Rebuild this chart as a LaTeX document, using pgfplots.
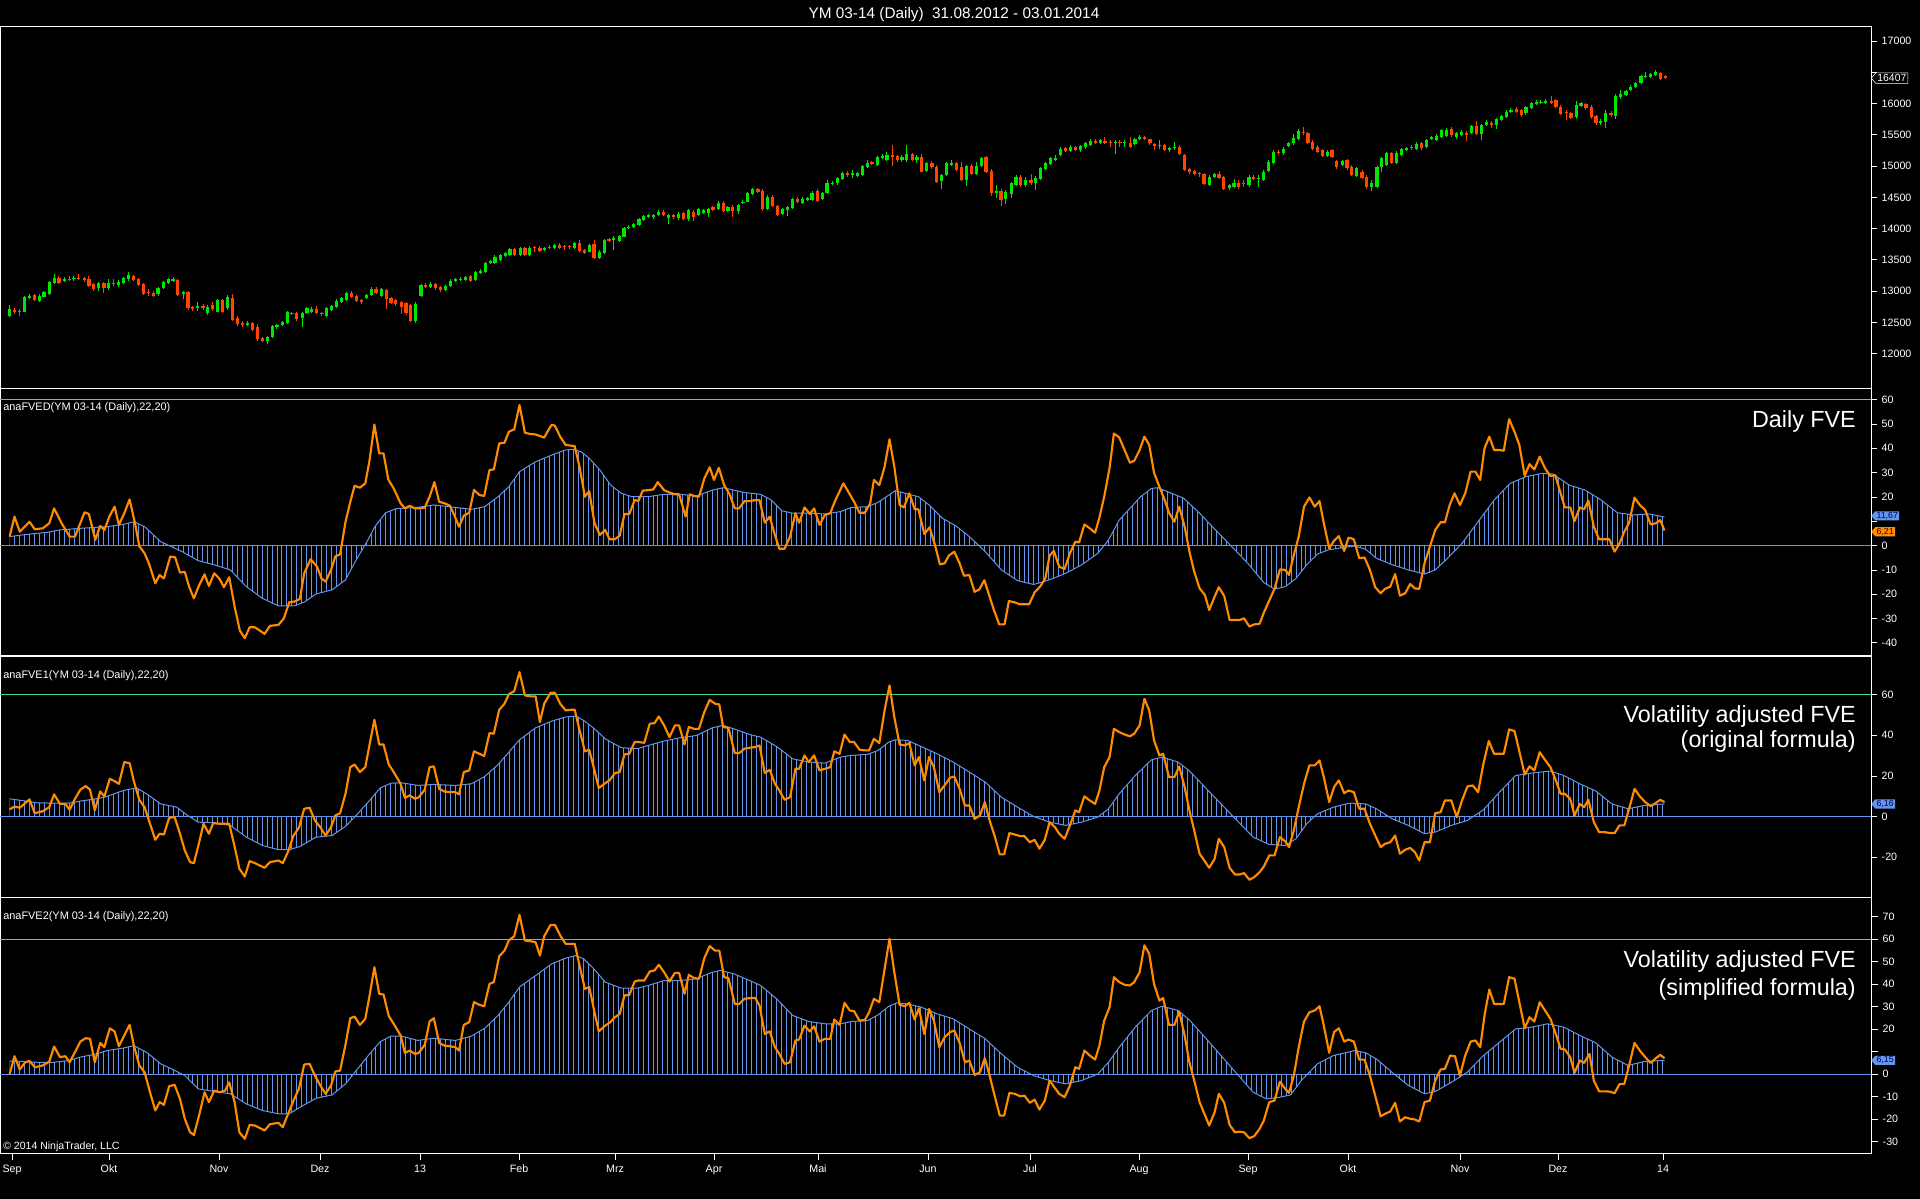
\documentclass[border=0pt]{standalone}
\usepackage{fontspec}
\setmainfont{Liberation Sans}
\usepackage{pgfplots}
\usepackage{pgfplotstable}
\pgfplotsset{compat=1.18}
\usetikzlibrary{patterns.meta,shapes.symbols}
\definecolor{fveorange}{RGB}{255,140,0}
\definecolor{histblue}{RGB}{100,149,237}
\definecolor{lvlgreen}{RGB}{60,220,150}
\definecolor{upgreen}{RGB}{0,230,0}
\definecolor{downred}{RGB}{255,69,0}

\pgfplotstableread{
x o h l c u
9.6 12603 12779 12582 12710 1
14.5 12699 12730 12640 12667 0
19.3 12688 12720 12610 12672 0
24.1 12672 12930 12660 12912 1
29.5 12896 12950 12880 12928 1
34.3 12939 12960 12840 12859 0
39.1 12848 12950 12820 12923 1
43.9 12912 13010 12900 12992 1
49.3 12955 13170 12940 13141 1
54.1 13136 13270 13120 13205 1
58.9 13205 13240 13120 13136 0
64.3 13163 13230 13140 13200 1
69.1 13195 13240 13160 13179 0
73.9 13189 13235 13170 13211 1
78.7 13211 13270 13180 13189 0
84.1 13205 13220 13150 13179 0
88.9 13189 13240 13070 13088 0
93.7 13115 13130 13010 13029 0
98.6 13045 13140 13000 13125 1
103.9 13125 13150 12970 13045 0
108.7 13045 13200 13020 13125 1
113.5 13136 13190 13080 13115 0
118.4 13099 13180 13060 13152 1
123.7 13125 13230 13110 13205 1
128.5 13189 13300 13170 13253 1
133.4 13243 13260 13160 13179 0
138.2 13200 13210 13090 13099 0
143.5 13115 13130 12940 12955 0
148.4 12992 13030 12920 12965 0
153.2 12965 13000 12900 12928 0
158.0 12949 13060 12930 13045 1
163.4 13045 13170 13030 13152 1
168.2 13125 13210 13110 13189 1
173.0 13163 13220 13150 13189 1
177.8 13179 13190 12930 12939 0
183.2 12955 13010 12870 12992 1
188.0 12992 13010 12700 12726 0
192.8 12742 12760 12690 12710 0
197.6 12726 12820 12690 12763 1
203.0 12763 12790 12700 12726 0
207.8 12646 12780 12620 12752 1
212.6 12779 12820 12690 12710 0
217.5 12672 12880 12660 12859 1
222.8 12859 12880 12650 12672 0
227.6 12726 12940 12700 12912 1
232.5 12886 12960 12520 12539 0
237.3 12566 12600 12450 12475 0
242.6 12486 12520 12420 12459 0
247.4 12459 12520 12440 12486 1
252.3 12486 12500 12360 12379 0
257.1 12432 12470 12200 12230 0
262.4 12246 12260 12190 12209 0
267.3 12209 12280 12160 12262 1
272.1 12273 12460 12250 12443 1
276.9 12422 12480 12400 12459 1
282.3 12459 12530 12440 12512 1
287.1 12496 12690 12480 12672 1
291.9 12646 12660 12620 12635 0
296.7 12646 12660 12530 12555 0
302.1 12566 12670 12430 12656 1
306.9 12656 12750 12640 12726 1
311.7 12672 12740 12650 12715 1
316.5 12710 12770 12630 12646 0
321.9 12646 12670 12610 12630 0
326.7 12603 12740 12590 12726 1
331.5 12699 12780 12680 12763 1
336.4 12752 12870 12730 12848 1
341.7 12832 12910 12810 12886 1
346.5 12859 12990 12840 12976 1
351.4 12976 13000 12890 12912 0
356.2 12923 12940 12830 12848 0
361.5 12859 12880 12800 12832 0
366.4 12886 12960 12870 12939 1
371.2 12939 13060 12920 13029 1
376.0 13029 13070 12950 12965 0
381.3 12923 13050 12900 13029 1
386.2 13019 13040 12720 12869 0
391.0 12886 12900 12800 12816 0
395.8 12859 12880 12770 12795 0
401.2 12832 12850 12640 12752 0
406.0 12806 12820 12620 12646 0
410.8 12779 12800 12500 12523 0
415.6 12523 12820 12490 12795 1
421.0 12923 13110 12910 13099 1
425.8 13099 13130 13050 13072 0
430.6 13072 13140 13050 13115 1
435.4 13115 13130 13020 13045 0
440.8 13072 13090 12980 13019 0
445.6 13019 13100 13000 13083 1
450.4 13083 13190 13070 13168 1
455.3 13163 13210 13150 13189 1
460.6 13179 13220 13170 13200 1
465.4 13179 13240 13160 13221 1
470.3 13243 13260 13150 13168 0
475.1 13179 13330 13160 13312 1
480.4 13285 13350 13270 13328 1
485.3 13312 13470 13290 13456 1
490.1 13445 13500 13430 13482 1
494.9 13456 13570 13440 13552 1
500.3 13498 13600 13480 13578 1
505.1 13568 13620 13550 13605 1
509.9 13578 13690 13560 13669 1
514.7 13669 13690 13560 13578 0
520.1 13578 13710 13560 13696 1
524.9 13696 13710 13560 13578 0
529.7 13578 13720 13560 13696 1
534.5 13701 13720 13620 13685 0
539.9 13696 13720 13630 13648 0
544.7 13658 13710 13640 13696 1
549.5 13712 13730 13670 13685 0
554.4 13685 13760 13670 13738 1
559.7 13738 13770 13670 13685 0
564.5 13722 13740 13660 13701 0
569.3 13722 13730 13680 13701 0
574.2 13685 13790 13670 13776 1
579.5 13776 13810 13620 13642 0
584.3 13658 13680 13600 13616 0
589.2 13632 13750 13620 13738 1
594.0 13749 13810 13510 13536 0
599.3 13525 13650 13510 13632 1
604.2 13605 13840 13590 13818 1
609.0 13829 13850 13790 13808 0
613.8 13818 13880 13660 13845 1
619.2 13808 13900 13790 13882 1
624.0 13872 14030 13860 14005 1
628.8 14005 14060 13990 14031 1
633.6 14031 14090 14010 14074 1
639.0 14058 14170 14040 14149 1
643.8 14138 14220 14120 14202 1
648.6 14191 14240 14170 14218 1
653.4 14181 14240 14160 14223 1
658.8 14218 14290 14200 14271 1
663.6 14271 14300 14200 14218 0
668.4 14165 14240 14080 14218 1
673.2 14218 14240 14160 14181 0
678.6 14165 14260 14140 14234 1
683.4 14245 14270 14130 14149 0
688.2 14154 14320 14120 14298 1
693.1 14271 14300 14120 14191 0
698.4 14218 14330 14200 14309 1
703.2 14255 14320 14240 14298 1
708.1 14255 14330 14190 14309 1
712.9 14340 14360 14280 14298 0
718.2 14309 14440 14290 14415 1
723.1 14415 14440 14270 14287 0
727.9 14287 14360 14270 14340 1
732.7 14351 14370 14180 14287 0
738.1 14287 14400 14230 14378 1
742.9 14405 14450 14390 14431 1
747.7 14431 14580 14420 14564 1
752.5 14554 14650 14540 14628 1
757.9 14628 14650 14570 14591 0
762.7 14607 14630 14280 14319 0
767.5 14309 14530 14290 14511 1
772.3 14511 14530 14340 14362 0
777.7 14362 14380 14200 14218 0
782.5 14234 14330 14220 14309 1
787.3 14298 14360 14200 14340 1
792.2 14325 14490 14310 14474 1
797.5 14474 14500 14410 14431 0
802.3 14405 14510 14390 14479 1
807.2 14458 14500 14440 14484 1
812.0 14458 14600 14440 14575 1
817.3 14607 14630 14430 14447 0
822.1 14468 14590 14450 14575 1
827.0 14575 14770 14560 14724 1
832.3 14708 14760 14690 14735 1
837.6 14724 14830 14700 14815 1
842.5 14793 14900 14780 14884 1
847.3 14884 14920 14830 14857 0
852.1 14857 14930 14810 14895 1
857.5 14841 14900 14820 14884 1
862.3 14857 15020 14840 15001 1
867.1 14991 15090 14970 15054 1
871.9 15065 15080 15010 15033 0
877.3 15017 15160 15000 15140 1
882.1 15124 15190 15110 15161 1
886.9 15097 15220 15080 15177 1
892.3 15177 15330 15000 15150 0
897.1 15161 15180 15060 15097 0
901.9 15097 15170 15070 15150 1
906.7 15097 15330 15060 15188 1
912.1 15193 15210 15080 15097 0
916.9 15097 15180 15050 15150 1
921.7 15150 15190 14900 14911 0
926.6 14922 15060 14900 15044 1
931.9 15044 15080 14960 14991 0
936.7 14991 15010 14730 14751 0
941.5 14762 14880 14640 14857 1
946.4 14857 15070 14840 15044 1
951.7 15017 15090 15000 15044 1
956.5 15054 15070 14920 14937 0
961.4 14991 15060 14760 14777 0
966.2 14777 15020 14680 15001 1
971.5 15001 15030 14860 14873 0
976.4 14868 15070 14850 15001 1
981.2 15001 15150 14990 15124 1
986.0 15140 15160 14890 14911 0
991.4 14927 14960 14520 14564 0
996.2 14575 14700 14490 14607 1
1001.0 14607 14640 14360 14458 0
1005.8 14468 14620 14400 14591 1
1011.2 14553 14740 14490 14724 1
1016.0 14698 14850 14680 14831 1
1020.8 14831 14850 14670 14698 0
1025.6 14698 14830 14660 14777 1
1031.0 14777 14870 14700 14735 0
1035.8 14735 14840 14620 14815 1
1040.6 14788 14980 14770 14964 1
1045.5 14948 15060 14930 15044 1
1050.8 15033 15140 15010 15124 1
1055.6 15097 15180 15080 15124 1
1060.5 15177 15300 15160 15268 1
1065.3 15284 15310 15220 15247 0
1070.6 15247 15340 15230 15310 1
1075.4 15300 15320 15240 15257 0
1080.3 15257 15340 15230 15321 1
1085.1 15300 15380 15280 15364 1
1090.4 15337 15440 15320 15401 1
1095.3 15406 15430 15360 15374 0
1100.1 15364 15440 15350 15417 1
1104.9 15406 15460 15360 15374 0
1110.3 15390 15410 15300 15364 0
1115.1 15374 15420 15200 15390 1
1119.9 15380 15410 15310 15364 0
1124.7 15364 15410 15300 15390 1
1130.1 15374 15460 15290 15310 0
1134.9 15353 15450 15330 15428 1
1139.7 15428 15490 15410 15470 1
1144.5 15460 15480 15410 15428 0
1149.9 15428 15440 15340 15364 0
1154.7 15353 15370 15260 15321 0
1159.5 15321 15420 15270 15337 1
1164.4 15337 15360 15240 15257 0
1169.7 15257 15300 15230 15284 1
1174.5 15284 15390 15260 15310 1
1179.4 15310 15330 15170 15193 0
1184.2 15177 15190 14920 14937 0
1189.5 14948 14970 14880 14911 0
1194.4 14921 14940 14850 14868 0
1199.2 14895 14910 14830 14868 0
1204.0 14873 14890 14700 14713 0
1209.3 14698 14850 14680 14831 1
1214.2 14831 14890 14810 14873 1
1219.0 14873 14920 14790 14804 0
1223.8 14820 14840 14610 14628 0
1229.2 14644 14720 14620 14698 1
1234.0 14671 14790 14650 14735 1
1238.8 14735 14780 14630 14671 0
1243.6 14735 14780 14660 14713 0
1249.0 14698 14850 14670 14831 1
1253.8 14831 14850 14770 14788 0
1258.6 14788 14860 14660 14804 1
1263.4 14777 14940 14760 14911 1
1268.3 14927 15090 14910 15071 1
1273.6 15044 15250 15030 15230 1
1278.4 15225 15250 15170 15204 0
1283.3 15204 15300 15180 15268 1
1288.6 15321 15390 15300 15374 1
1293.4 15364 15520 15340 15444 1
1298.3 15428 15600 15410 15566 1
1303.1 15550 15620 15500 15524 0
1307.9 15524 15540 15350 15364 0
1312.7 15390 15420 15250 15268 0
1317.6 15300 15330 15210 15230 0
1322.4 15257 15280 15140 15161 0
1327.2 15161 15260 15140 15230 1
1332.0 15257 15280 15130 15150 0
1336.8 15087 15100 14960 14980 0
1342.2 15017 15100 15000 15081 1
1347.0 15097 15120 14940 14964 0
1351.8 14991 15010 14840 14857 0
1356.6 14841 14990 14820 14964 1
1362.0 14911 14930 14790 14804 0
1366.8 14831 14850 14640 14671 0
1371.6 14660 14770 14600 14724 1
1377.0 14671 15000 14650 14991 1
1381.8 14991 15140 14900 15124 1
1386.6 15017 15220 15000 15204 1
1391.4 15204 15230 15030 15044 0
1396.8 15044 15240 15030 15215 1
1401.6 15177 15290 15160 15268 1
1406.4 15257 15310 15240 15284 1
1411.3 15310 15330 15260 15284 0
1416.6 15268 15380 15250 15353 1
1421.4 15364 15380 15260 15284 0
1426.3 15310 15440 15290 15417 1
1431.6 15428 15480 15410 15460 1
1436.4 15417 15510 15400 15481 1
1441.3 15470 15600 15450 15577 1
1446.6 15481 15610 15460 15577 1
1451.5 15588 15630 15470 15497 0
1456.3 15460 15550 15440 15524 1
1461.6 15497 15580 15480 15550 1
1466.4 15534 15560 15400 15497 0
1471.3 15524 15660 15510 15641 1
1476.1 15641 15720 15490 15513 0
1481.4 15513 15680 15420 15657 1
1486.3 15657 15740 15640 15710 1
1491.1 15694 15720 15610 15657 0
1496.4 15657 15770 15600 15748 1
1501.3 15737 15820 15720 15801 1
1506.1 15790 15890 15770 15870 1
1510.9 15870 15930 15850 15897 1
1516.3 15907 15950 15850 15870 0
1521.1 15897 15920 15790 15817 0
1525.9 15843 15960 15820 15939 1
1531.3 15923 16030 15910 16003 1
1536.1 15992 16060 15980 16030 1
1540.9 16003 16060 15990 16030 1
1545.7 16014 16070 16000 16046 1
1551.1 16046 16120 16000 16014 0
1555.9 16056 16080 15930 15950 0
1560.7 15950 15970 15820 15833 0
1566.1 15870 15900 15740 15843 0
1570.9 15854 15870 15750 15764 0
1576.2 15780 16040 15760 15977 1
1581.0 15960 16020 15940 16003 1
1585.9 15992 16010 15900 15923 0
1591.2 15950 15970 15760 15780 0
1596.0 15801 15820 15650 15694 0
1600.8 15683 15760 15660 15726 1
1605.7 15710 15890 15610 15843 1
1611.0 15843 15880 15790 15817 0
1615.8 15801 16150 15760 16120 1
1620.7 16110 16210 16080 16153 1
1626.0 16136 16220 16120 16206 1
1630.8 16216 16290 16200 16270 1
1635.7 16270 16340 16250 16323 1
1641.0 16323 16460 16310 16440 1
1645.8 16430 16500 16410 16440 1
1650.6 16430 16490 16410 16472 1
1655.5 16456 16540 16440 16504 1
1660.8 16494 16510 16370 16387 0
1665.7 16440 16460 16390 16407 0
}\candles

\pgfplotstableread{
x v
9.6 3.7
14.5 11.9
19.8 5.7
29.5 9.8
34.8 6.7
42.8 7.1
49.3 9.2
54.1 15.3
61.6 9.2
69.6 3.7
75.0 3.7
84.6 13.7
88.9 13.0
95.3 2.3
100.2 8.1
104.4 6.4
109.3 11.9
114.6 16.0
118.9 8.5
124.3 13.3
129.6 19.0
135.0 9.2
139.3 -0.2
144.6 -3.2
148.9 -7.3
155.3 -15.5
159.6 -12.1
163.9 -13.5
170.3 -4.5
175.1 -4.8
180.0 -11.1
184.8 -10.8
189.1 -16.9
193.9 -21.7
199.2 -16.2
204.6 -11.8
208.9 -16.6
214.2 -11.4
219.6 -13.7
223.9 -17.1
229.2 -13.0
234.6 -25.1
239.9 -35.0
244.8 -38.1
249.6 -33.6
254.9 -33.6
264.6 -36.3
269.9 -33.0
278.5 -32.6
283.9 -29.9
289.2 -23.3
294.6 -23.0
299.9 -21.9
304.2 -11.4
310.6 -5.6
317.1 -8.7
321.4 -13.5
325.6 -14.8
331.0 -10.0
335.3 -4.5
340.1 -3.6
345.5 9.8
350.8 18.8
354.6 24.6
359.9 23.8
365.3 25.6
369.6 35.2
374.4 49.8
379.2 37.9
383.5 37.9
388.3 27.2
393.7 23.5
400.6 17.4
404.9 15.3
409.7 16.4
415.1 15.3
418.8 15.3
424.7 15.6
429.6 20.1
434.4 26.1
439.2 18.0
444.5 17.4
449.9 16.4
454.2 12.6
459.0 7.8
463.8 12.3
469.2 13.5
474.0 22.9
479.4 20.8
484.2 20.4
489.5 31.1
493.8 31.3
499.2 42.0
504.5 42.3
508.8 46.8
514.2 47.8
519.5 57.8
524.9 46.4
530.2 45.9
535.6 45.7
544.2 44.4
547.4 46.8
551.7 49.7
554.9 49.3
560.2 44.8
565.6 41.4
570.9 41.1
574.7 40.9
579.5 32.4
584.9 20.1
589.2 22.4
594.5 9.2
599.9 4.4
605.2 6.4
609.5 2.6
614.9 2.6
619.7 4.1
624.5 13.0
629.3 13.0
634.7 18.8
638.4 18.3
642.7 22.6
648.1 22.8
653.4 23.1
657.7 26.1
664.1 22.8
669.5 21.8
674.9 21.1
679.1 21.1
685.6 11.9
689.8 21.1
694.1 20.4
699.0 20.1
704.3 27.6
709.7 32.2
714.0 27.0
718.8 32.0
724.1 24.9
729.5 21.2
734.8 15.3
739.1 15.3
744.5 18.3
749.8 18.3
755.2 18.7
759.5 18.7
764.8 9.4
769.7 11.9
773.9 5.7
779.3 -1.3
784.6 -1.3
790.0 3.7
795.4 13.3
799.1 9.4
804.5 15.7
809.8 13.0
814.1 15.3
819.5 8.5
824.8 12.6
830.2 13.3
835.4 18.7
843.4 25.6
854.1 18.0
859.5 13.5
864.8 13.5
870.2 17.4
873.9 27.0
879.3 24.9
884.6 32.4
889.5 43.7
894.3 32.4
899.6 16.7
903.9 15.7
909.3 21.5
914.6 15.0
918.4 14.9
924.3 4.8
929.6 7.5
935.0 0.2
939.8 -7.7
944.6 -7.3
948.9 -4.1
954.3 -2.5
959.6 -7.3
963.9 -12.4
969.3 -12.1
974.6 -19.0
979.4 -18.0
984.3 -14.2
989.6 -21.0
993.9 -26.5
999.2 -32.4
1004.6 -32.4
1008.9 -22.8
1014.2 -23.3
1019.6 -24.1
1029.2 -24.1
1034.6 -19.2
1040.0 -16.9
1045.3 -13.5
1049.6 -4.1
1053.9 -2.2
1059.2 -8.7
1064.6 -9.6
1069.9 -3.2
1075.3 1.6
1079.1 1.3
1084.4 8.7
1089.8 7.1
1095.1 5.3
1099.4 11.5
1104.2 20.1
1109.6 32.0
1113.9 46.1
1119.2 44.5
1124.6 39.3
1129.9 34.1
1134.2 34.9
1139.6 39.3
1144.4 44.8
1149.2 41.4
1154.0 30.0
1159.4 24.2
1164.7 18.7
1169.0 13.5
1174.4 9.8
1179.2 16.0
1184.6 7.8
1189.4 -2.5
1194.2 -10.7
1199.6 -17.6
1204.9 -20.3
1209.2 -26.5
1214.6 -21.0
1218.8 -17.1
1224.2 -20.7
1229.6 -30.6
1234.9 -30.6
1239.7 -30.6
1244.0 -29.9
1249.4 -33.3
1254.2 -32.4
1259.5 -32.2
1263.8 -27.6
1269.2 -22.6
1274.5 -17.8
1279.9 -9.8
1285.3 -10.0
1289.0 -12.1
1293.8 -3.9
1298.7 3.7
1304.0 16.0
1309.4 19.8
1314.7 16.0
1319.5 18.3
1323.8 9.2
1329.2 -1.1
1334.0 2.0
1338.8 3.9
1344.2 -2.2
1348.5 3.3
1353.8 2.6
1359.2 -5.2
1364.5 -4.9
1369.9 -10.0
1375.2 -17.1
1380.6 -19.6
1384.9 -17.8
1390.2 -16.9
1395.1 -11.7
1399.9 -20.6
1405.2 -19.6
1410.1 -15.8
1414.9 -17.6
1419.2 -17.8
1424.5 -7.3
1429.9 -0.4
1435.2 6.4
1440.6 9.6
1444.9 9.6
1449.7 16.7
1454.5 21.5
1459.9 16.7
1465.2 21.5
1470.6 30.4
1475.4 30.4
1480.2 27.0
1484.5 40.0
1489.3 44.8
1494.1 39.3
1499.5 39.3
1503.8 39.0
1509.1 52.0
1514.5 46.8
1519.3 41.4
1524.7 28.7
1529.5 33.5
1534.3 31.3
1539.7 36.6
1545.0 31.8
1550.4 28.6
1555.2 29.0
1560.6 21.5
1564.8 15.7
1570.2 15.7
1574.5 10.1
1579.8 15.7
1584.1 14.9
1588.4 18.5
1593.8 7.8
1599.1 2.6
1604.5 2.6
1609.3 2.6
1614.6 -2.5
1619.5 0.9
1624.3 5.7
1629.1 9.4
1634.5 19.7
1639.8 16.7
1645.2 14.6
1650.6 8.7
1655.9 9.2
1660.2 10.5
1664.5 6.2
}\fvedline

\pgfplotstableread{
x v
9.6 3.7
26.8 4.6
48.2 5.5
58.9 6.4
80.3 7.1
107.1 7.8
123.2 8.7
133.9 9.8
144.6 7.8
160.7 1.6
182.1 -2.5
198.2 -6.2
214.2 -7.9
230.3 -10.0
246.4 -16.9
262.4 -21.7
278.5 -24.8
294.6 -24.8
305.3 -23.0
316.0 -19.9
332.1 -18.2
345.5 -14.1
356.2 -5.9
366.9 1.6
374.9 7.8
385.6 13.5
396.3 15.2
417.8 15.7
433.8 16.7
455.3 15.7
471.3 14.9
484.7 16.0
498.1 20.1
508.8 24.2
519.5 30.4
535.6 34.5
551.7 37.2
565.1 39.3
573.1 39.6
581.1 38.6
589.2 35.9
599.9 31.1
610.6 24.9
621.3 21.5
632.0 20.1
648.1 20.1
664.1 21.1
680.2 21.1
696.3 20.4
712.3 22.8
723.1 23.8
733.8 22.8
744.5 21.8
760.6 21.1
771.3 18.7
782.0 14.3
792.7 13.3
808.8 13.3
824.8 13.0
840.7 14.0
851.4 15.7
867.5 16.0
878.2 17.8
888.9 20.8
895.3 22.6
905.0 21.5
918.4 20.1
929.1 16.7
942.5 11.2
955.9 8.1
969.3 3.7
985.3 -2.5
1001.4 -10.0
1017.5 -14.4
1033.5 -16.0
1044.2 -14.8
1055.0 -13.2
1065.7 -11.4
1081.7 -7.9
1097.8 -3.2
1108.5 2.3
1119.2 10.5
1129.9 15.3
1140.6 20.1
1151.4 23.5
1157.8 23.8
1167.4 22.2
1183.5 19.5
1199.6 13.3
1215.6 6.4
1231.7 -0.4
1247.8 -7.3
1263.8 -15.2
1274.5 -17.9
1285.3 -16.9
1296.0 -13.5
1306.7 -7.9
1317.4 -3.5
1328.1 -1.8
1344.2 -0.7
1354.9 -0.2
1365.6 -1.5
1376.3 -5.2
1392.4 -7.9
1408.4 -10.0
1424.5 -11.7
1435.2 -10.0
1445.9 -5.9
1462.0 0.9
1478.0 9.8
1494.1 18.7
1510.2 25.6
1526.3 28.4
1542.3 29.7
1553.1 29.4
1569.1 24.9
1585.2 22.8
1601.3 18.7
1617.3 13.5
1633.4 12.6
1649.5 13.0
1664.5 11.7
}\fvedhist

\pgfplotstableread{
x v
9.6 3.5
14.5 4.9
19.8 4.3
29.5 8.4
34.8 1.6
42.8 2.6
49.3 4.6
54.1 10.9
60.0 6.2
65.3 6.2
69.6 3.3
75.0 8.7
80.3 13.2
85.7 15.0
90.0 13.2
94.8 3.0
100.2 12.3
104.4 9.9
109.8 18.6
114.6 17.4
118.9 16.1
124.3 26.8
129.6 26.3
133.9 17.3
139.3 8.2
144.6 4.6
150.0 -3.6
155.3 -11.5
159.6 -8.5
163.9 -8.9
169.2 -0.7
174.6 -0.3
180.0 -8.5
184.8 -16.8
190.1 -22.5
193.9 -23.0
199.2 -12.7
203.5 -3.6
208.9 -8.5
213.2 -3.3
219.6 -3.6
225.0 -3.6
229.2 -3.6
234.6 -14.8
239.4 -25.8
244.8 -29.6
249.6 -22.0
254.9 -23.0
264.6 -25.3
269.9 -22.5
278.5 -21.7
282.8 -23.0
288.1 -17.3
293.5 -9.4
298.9 -5.6
304.2 3.8
309.6 4.3
314.9 -2.0
320.3 -5.3
325.6 -9.4
331.0 -5.3
335.3 0.5
340.1 1.6
345.5 11.2
350.3 24.3
354.6 25.6
359.9 21.9
365.3 24.3
369.6 35.5
374.4 47.7
379.2 35.5
383.5 35.5
388.8 25.6
393.7 21.9
400.6 16.1
404.9 9.2
409.7 10.4
415.1 8.7
418.8 9.5
424.7 13.2
429.6 24.3
433.8 24.7
439.2 13.6
444.5 12.3
449.9 12.0
455.3 12.0
459.0 10.9
463.8 21.9
469.2 22.7
474.0 32.1
479.4 30.9
484.2 29.8
489.5 41.1
493.8 40.8
499.2 52.6
504.5 55.6
508.8 60.2
514.2 61.8
519.5 71.2
524.9 59.7
530.2 59.2
535.6 59.2
539.9 46.5
544.2 55.6
550.6 61.0
554.9 61.0
560.2 55.6
565.6 52.3
570.9 52.6
574.7 52.6
579.5 42.7
584.9 32.1
589.2 32.9
594.5 22.7
598.8 14.0
605.2 16.4
609.5 17.8
614.9 21.4
619.7 21.9
624.5 30.6
629.3 30.9
634.7 36.7
638.4 36.7
644.3 36.3
649.7 45.7
654.5 46.0
658.8 49.3
664.1 44.9
669.5 39.1
674.9 44.9
679.1 44.9
684.5 35.5
688.8 44.1
694.1 43.2
699.0 43.2
704.3 51.5
709.7 57.5
715.0 55.6
719.3 55.2
723.1 44.1
728.4 43.7
734.8 31.2
739.1 31.2
744.5 33.4
749.8 33.9
755.2 34.2
759.5 35.0
764.8 21.4
769.7 23.0
775.0 16.1
779.3 12.8
784.6 8.2
790.0 9.5
795.4 23.5
799.1 23.5
804.5 30.1
808.8 26.8
814.1 30.1
819.5 22.7
824.8 23.5
830.2 24.3
834.3 32.1
839.6 30.9
844.5 40.4
849.8 36.7
854.1 36.7
859.5 32.9
864.8 32.6
869.1 32.6
873.9 38.3
879.3 36.2
884.6 52.3
889.5 64.6
894.3 49.0
899.6 35.5
905.0 35.0
909.3 36.2
914.6 25.2
918.9 29.3
924.3 17.8
929.1 29.3
933.9 24.3
939.3 12.0
944.6 15.3
950.0 19.1
954.3 19.7
959.6 13.6
965.0 5.4
969.3 5.4
974.6 -1.2
980.0 0.5
984.8 7.1
989.6 -2.0
995.0 -10.2
999.8 -18.7
1004.1 -18.7
1009.4 -8.2
1014.8 -8.9
1020.1 -9.7
1024.4 -9.7
1029.8 -12.7
1034.6 -11.5
1039.4 -15.9
1044.8 -11.5
1049.6 -2.8
1055.0 -5.3
1059.2 -8.5
1064.6 -11.0
1069.9 -4.4
1075.3 3.0
1079.1 2.1
1084.4 9.9
1089.8 7.9
1095.1 6.2
1099.4 12.8
1104.2 24.3
1109.6 29.3
1113.9 43.2
1119.2 41.6
1124.6 40.4
1129.9 39.5
1134.2 40.8
1139.6 44.9
1144.4 58.0
1149.2 52.3
1154.0 37.5
1159.4 30.1
1163.1 30.9
1169.0 19.4
1174.4 19.4
1179.2 24.7
1184.6 14.5
1189.4 3.0
1194.2 -6.9
1199.6 -18.4
1209.2 -25.3
1214.6 -20.9
1218.8 -11.0
1224.2 -15.1
1229.6 -25.3
1234.9 -28.6
1239.7 -28.6
1244.0 -27.9
1249.4 -31.2
1254.2 -29.9
1259.5 -27.5
1263.8 -24.7
1269.2 -19.2
1274.5 -19.2
1279.9 -10.2
1285.3 -12.3
1289.0 -15.1
1293.8 -6.9
1298.7 4.6
1304.0 16.1
1309.4 25.2
1314.7 25.2
1319.5 27.6
1323.8 19.4
1329.2 7.1
1334.0 14.5
1338.8 17.8
1344.2 11.5
1348.5 12.8
1353.8 12.0
1359.2 3.8
1364.5 3.8
1369.9 -3.6
1380.6 -15.1
1384.9 -13.5
1390.2 -12.7
1395.1 -9.4
1399.9 -18.4
1405.2 -16.4
1410.1 -15.5
1414.9 -17.6
1419.2 -21.7
1424.5 -12.7
1429.9 -12.7
1435.2 1.6
1440.6 2.1
1444.9 7.9
1451.3 7.9
1456.7 -0.3
1462.0 7.9
1467.4 14.8
1472.7 15.3
1478.1 12.0
1483.4 26.0
1488.8 37.2
1494.1 30.9
1499.5 30.9
1503.8 30.9
1509.1 42.9
1514.5 42.1
1519.3 32.2
1524.7 20.7
1529.5 24.7
1534.3 22.7
1539.7 31.7
1545.0 27.9
1550.4 24.3
1555.2 18.6
1560.6 11.2
1564.8 11.2
1570.2 8.7
1574.5 0.5
1579.8 6.2
1584.1 4.6
1588.4 8.2
1593.8 -2.8
1599.1 -7.7
1604.5 -7.7
1609.3 -8.1
1614.6 -8.2
1619.5 -4.4
1624.3 -4.4
1629.1 3.8
1634.5 13.6
1639.8 9.9
1645.2 7.1
1650.6 5.1
1655.9 6.7
1660.2 8.2
1664.5 7.1
}\fveoneline

\pgfplotstableread{
x v
9.6 8.7
21.4 7.9
37.5 6.7
53.6 6.6
69.6 6.6
80.3 7.6
96.4 8.7
107.1 9.9
123.2 12.8
136.6 14.1
147.3 10.9
160.7 6.2
176.7 4.6
187.5 0.5
198.2 -2.8
214.2 -3.1
230.3 -4.4
246.4 -10.2
262.4 -14.3
278.5 -16.4
289.2 -16.4
299.9 -14.8
316.0 -10.2
332.1 -9.4
345.5 -4.9
356.2 0.5
369.6 7.9
380.3 14.1
391.0 16.4
401.7 16.6
417.8 15.3
433.8 15.8
455.3 15.3
471.3 16.1
484.7 19.7
498.1 25.6
508.8 31.7
519.5 37.8
535.6 43.7
551.7 47.0
565.1 49.0
575.8 49.5
583.8 47.3
594.5 43.2
605.2 38.3
621.3 33.9
637.4 33.4
648.1 35.0
664.1 37.2
680.2 38.8
696.3 39.9
712.3 43.7
723.1 44.9
733.8 43.2
749.8 40.4
760.6 39.1
776.6 34.5
792.7 28.4
808.8 26.8
824.8 26.3
840.7 29.3
851.4 30.1
867.5 30.6
878.2 32.6
888.9 36.7
895.3 37.8
907.7 37.5
921.1 34.5
937.1 30.9
953.2 26.8
969.3 21.9
985.3 16.9
1001.4 9.5
1017.5 4.6
1033.5 0.0
1049.6 -2.8
1065.7 -4.4
1081.7 -2.8
1097.8 -0.3
1108.5 3.8
1119.2 11.2
1135.3 20.2
1151.4 27.9
1162.1 29.3
1178.1 26.8
1188.9 22.7
1204.9 14.5
1221.0 6.2
1237.1 -2.0
1253.1 -10.2
1269.2 -13.8
1285.3 -14.3
1296.0 -11.0
1306.7 -3.6
1317.4 1.3
1333.5 4.6
1349.5 6.6
1365.6 6.2
1376.3 3.8
1392.4 -1.2
1408.4 -4.4
1424.5 -8.5
1435.2 -7.7
1451.3 -4.4
1467.4 -2.0
1483.4 3.3
1499.5 12.0
1515.6 20.2
1531.6 21.4
1550.4 22.4
1563.8 20.2
1579.8 16.1
1595.9 12.5
1611.9 6.2
1628.0 3.8
1644.1 5.4
1664.5 6.2
}\fveonehist

\pgfplotstableread{
x v
9.6 0.0
14.5 8.0
19.8 2.1
25.2 5.3
29.5 5.9
34.8 3.1
42.8 3.9
49.3 5.6
54.1 12.3
60.0 7.6
65.3 8.0
69.6 5.3
75.0 9.8
80.3 14.5
85.7 16.0
90.0 15.7
94.8 5.3
100.2 13.9
104.4 12.0
109.8 20.4
114.6 19.0
118.9 12.4
124.3 17.2
129.6 21.9
133.9 12.7
139.3 3.9
144.6 0.9
150.0 -8.0
155.3 -16.1
159.6 -12.4
163.9 -13.6
169.2 -5.3
174.6 -4.7
180.0 -11.0
184.8 -19.8
190.1 -25.8
193.9 -27.0
199.2 -18.1
204.6 -8.0
208.9 -12.4
214.2 -7.3
219.6 -8.0
225.0 -7.3
229.2 -3.6
234.6 -12.4
239.4 -25.8
244.8 -28.7
249.6 -22.5
254.9 -22.8
264.6 -25.0
269.9 -22.2
278.5 -21.6
282.8 -23.5
288.1 -17.6
293.5 -11.7
298.9 -6.5
304.2 4.3
309.6 4.6
314.9 -0.6
320.3 -5.0
325.6 -8.7
331.0 -5.0
335.3 1.2
340.1 1.6
345.5 13.2
350.3 24.9
354.6 25.6
359.9 21.9
365.3 24.6
369.6 35.0
374.4 47.5
379.2 35.7
383.5 35.4
388.8 25.8
393.7 22.4
400.6 17.2
404.9 9.5
409.7 10.5
415.1 9.0
418.8 9.5
424.7 13.0
429.6 23.4
433.8 24.9
439.2 13.9
444.5 12.7
449.9 12.4
455.3 12.0
459.0 10.5
463.8 21.9
469.2 23.1
474.0 32.0
479.4 30.8
484.2 30.2
489.5 40.1
493.8 40.9
499.2 52.4
504.5 54.9
508.8 59.4
514.2 61.3
519.5 70.8
524.9 59.4
530.2 59.1
535.6 58.6
539.9 52.7
544.2 61.3
550.6 66.3
554.9 66.3
560.2 61.6
565.6 57.9
570.9 57.9
574.7 57.9
579.5 48.3
584.9 37.9
589.2 38.7
594.5 27.5
598.8 19.0
605.2 21.6
609.5 22.8
614.9 25.3
619.7 26.8
624.5 35.0
629.3 35.2
634.7 41.2
638.4 41.6
644.3 41.6
649.7 45.6
654.5 46.1
658.8 48.6
664.1 45.3
669.5 41.2
674.9 45.0
679.1 45.0
684.5 35.7
688.8 44.1
694.1 42.7
699.0 42.4
704.3 51.5
709.7 56.9
715.0 54.9
719.3 54.9
724.1 43.1
728.4 42.7
734.8 31.2
739.1 31.2
744.5 33.5
749.8 33.8
755.2 33.9
759.5 30.5
764.8 17.9
769.7 19.0
775.0 12.0
779.3 9.0
784.6 4.6
790.0 5.3
795.4 15.0
799.1 15.4
804.5 21.6
809.8 19.0
814.1 21.3
819.5 14.5
824.8 15.7
830.2 15.7
834.3 24.3
839.6 21.9
844.5 31.7
849.8 28.3
854.1 28.0
859.5 23.8
864.8 24.1
869.1 27.5
873.9 33.5
879.3 32.0
884.6 46.8
889.5 60.1
894.3 45.3
899.6 30.8
905.0 30.2
909.3 31.7
914.6 24.3
918.9 29.3
924.3 17.9
929.1 29.0
933.9 23.8
939.3 12.0
944.6 16.4
950.0 18.7
954.3 19.4
959.6 13.9
965.0 5.3
969.3 6.1
974.6 -0.3
980.0 0.9
984.8 7.1
989.6 -0.6
995.0 -10.2
999.8 -18.4
1004.1 -18.4
1009.4 -8.3
1014.8 -8.7
1020.1 -9.8
1024.4 -9.5
1029.8 -12.7
1034.6 -11.3
1039.4 -15.7
1044.8 -11.7
1049.6 -2.8
1055.0 -6.2
1059.2 -8.7
1064.6 -10.2
1069.9 -5.0
1075.3 3.1
1079.1 2.4
1084.4 10.5
1089.8 8.3
1095.1 6.5
1099.4 12.7
1104.2 23.8
1109.6 29.8
1113.9 43.1
1119.2 40.9
1124.6 39.7
1129.9 39.4
1134.2 40.9
1139.6 45.3
1144.4 57.2
1149.2 53.5
1154.0 40.1
1159.4 32.7
1163.1 33.8
1169.0 21.9
1174.4 21.9
1179.2 27.8
1184.6 17.2
1189.4 5.3
1194.2 -2.8
1199.6 -12.4
1209.2 -22.8
1214.6 -16.9
1218.8 -8.7
1224.2 -12.7
1229.6 -22.5
1234.9 -25.8
1239.7 -25.5
1244.0 -25.8
1249.4 -28.4
1254.2 -27.5
1259.5 -24.3
1263.8 -20.6
1269.2 -12.4
1274.5 -11.7
1279.9 -3.3
1285.3 -6.5
1289.0 -8.3
1293.8 -0.6
1298.7 12.0
1304.0 23.4
1309.4 27.5
1314.7 28.3
1319.5 30.2
1323.8 21.6
1329.2 9.5
1334.0 18.7
1338.8 20.4
1344.2 14.5
1348.5 15.4
1353.8 14.5
1359.2 6.5
1364.5 6.5
1369.9 -0.6
1375.2 -9.5
1380.6 -18.7
1384.9 -17.6
1390.2 -16.6
1395.1 -12.7
1399.9 -21.0
1405.2 -19.1
1410.1 -19.8
1414.9 -20.1
1419.2 -21.0
1424.5 -12.4
1429.9 -11.7
1435.2 -2.8
1440.6 2.1
1444.9 2.4
1450.2 8.3
1455.0 8.0
1459.9 -0.6
1465.2 8.3
1470.6 14.5
1475.4 15.0
1480.2 12.0
1484.5 26.1
1489.3 37.6
1494.1 31.2
1499.5 31.2
1503.8 31.2
1509.1 43.1
1514.5 42.4
1519.3 32.0
1524.7 20.4
1529.5 25.3
1534.3 23.4
1539.7 32.0
1545.0 28.3
1550.4 24.6
1555.2 18.7
1560.6 11.3
1564.8 11.0
1570.2 7.6
1574.5 0.6
1579.8 6.1
1584.1 5.0
1589.5 9.0
1593.8 -2.8
1599.1 -7.6
1604.5 -7.6
1609.3 -7.7
1614.6 -8.4
1619.5 -4.4
1624.3 -4.3
1629.1 3.9
1634.5 13.9
1639.8 10.5
1645.2 7.6
1650.6 5.0
1655.9 7.1
1660.2 8.6
1664.5 7.1
}\fvetwoline

\pgfplotstableread{
x v
9.6 5.8
21.4 5.6
37.5 5.3
53.6 5.3
69.6 6.1
80.3 7.6
96.4 9.0
107.1 10.5
123.2 11.6
133.9 12.7
147.3 9.5
160.7 4.6
171.4 2.4
184.8 -0.6
198.2 -6.5
214.2 -7.7
230.3 -8.7
246.4 -13.2
262.4 -16.1
278.5 -17.6
289.2 -17.6
299.9 -14.7
316.0 -10.7
332.1 -9.2
345.5 -4.3
356.2 1.6
369.6 9.0
380.3 14.5
391.0 16.9
401.7 16.9
417.8 15.0
433.8 16.0
455.3 15.0
471.3 16.9
484.7 20.4
498.1 26.1
508.8 32.0
519.5 38.7
535.6 43.8
551.7 49.0
565.1 51.5
575.8 52.7
583.8 51.2
594.5 46.5
605.2 40.9
621.3 38.2
637.4 38.2
648.1 39.4
664.1 41.6
680.2 41.6
696.3 42.4
712.3 45.3
720.4 46.1
733.8 44.6
749.8 41.6
760.6 39.4
776.6 33.5
792.7 26.1
808.8 23.4
824.8 22.4
840.7 22.4
851.4 23.4
867.5 23.8
878.2 26.4
888.9 30.2
897.0 31.7
907.7 31.2
921.1 29.8
937.1 26.8
953.2 24.6
969.3 20.1
985.3 15.7
1001.4 9.0
1017.5 3.1
1033.5 -0.6
1049.6 -2.8
1065.7 -4.3
1081.7 -2.8
1097.8 0.1
1108.5 5.3
1119.2 12.0
1135.3 20.9
1151.4 28.3
1162.1 30.2
1178.1 28.3
1188.9 24.3
1204.9 16.4
1221.0 8.3
1237.1 0.1
1253.1 -8.0
1266.5 -11.0
1279.9 -10.2
1290.6 -9.2
1301.3 -2.8
1317.4 4.6
1333.5 8.3
1354.9 10.5
1365.6 9.5
1376.3 6.8
1392.4 0.7
1408.4 -5.0
1424.5 -8.7
1435.2 -7.7
1451.3 -3.6
1467.4 0.9
1483.4 8.3
1499.5 14.2
1515.6 20.1
1531.6 20.9
1547.7 22.4
1563.8 20.9
1579.8 17.2
1595.9 13.9
1611.9 7.6
1628.0 3.9
1644.1 5.6
1664.5 6.2
}\fvetwohist

\pgfplotsset{
  panel/.style={
    anchor=north west, scale only axis, width=1403.25pt,
    xmin=0, xmax=1871, clip=false,
    axis line style={white, line width=0.75pt},
    ytick pos=right, yticklabel pos=right,
    xtick=\empty,
    tick align=outside, major tick length=4.5pt,
    tick style={white, line width=0.6pt},
    yticklabel style={font=\fontsize{8}{9}\selectfont, text=white},
    xticklabel style={font=\fontsize{8}{9}\selectfont, text=white},
    scaled y ticks=false,
    /pgf/number format/assume math mode=true,
    /pgf/number format/1000 sep={},
    /pgf/number format/fixed,
  },
  hist/.style={draw=none, pattern={Lines[angle=90,distance=3.71pt,line width=0.7pt]}, pattern color=histblue},
  histline/.style={histblue, line width=0.75pt},
  fveline/.style={fveorange, line width=1.6pt, line join=round},
}
\tikzset{
  tag/.style={signal, signal to=west, signal pointer angle=100, anchor=west, inner xsep=1pt, inner ysep=0.7pt, font=\fontsize{6.6}{6.6}\selectfont},
}

\begin{document}
\begin{tikzpicture}
\fill[black] (0pt,0pt) rectangle (1440pt,-899.25pt);
\path[use as bounding box] (0pt,0pt) rectangle (1440pt,-899.25pt);
\node[text=white, font=\fontsize{11.5}{13}\selectfont] at (715.5pt,-11pt) {YM 03-14 (Daily)\ \ 31.08.2012 - 03.01.2014};

% price panel
\begin{axis}[panel, at={(0pt,-20.25pt)}, height=270.75pt,
  ymin=11451, ymax=17224,
  ytick={12000,12500,13000,13500,14000,14500,15000,15500,16000,17000},
  extra y ticks={16500}, extra y tick labels={},
  colormap={updown}{rgb255=(255,69,0) rgb255=(0,230,0)},
  point meta min=0, point meta max=1]
\addplot[line width=0.75pt, point meta=explicit,
  quiver={u=0, v=\thisrow{h}-\thisrow{l}, colored=mapped color}]
  table[x=x, y=l, meta=u] {\candles};
\addplot[line width=2.4pt, point meta=explicit,
  quiver={u=0, v=\thisrow{c}-\thisrow{o}, colored=mapped color}]
  table[x=x, y=o, meta=u] {\candles};
\node[tag, draw=white, fill=black, text=white, inner xsep=1.2pt, inner ysep=1.2pt, font=\fontsize{7.8}{8}\selectfont] at (axis cs:1871,16407) {16407};
\end{axis}

% daily FVE
\begin{axis}[panel, at={(0pt,-291pt)}, height=201pt,
  ymin=-45.4, ymax=64.8, ytick={-40,-30,-20,-10,0,20,30,40,50,60},
  extra y ticks={10}, extra y tick labels={}]
\addplot[hist] table[x=x,y=v] {\fvedhist} \closedcycle;
\addplot[histline] table[x=x,y=v] {\fvedhist};
\addplot[histline] coordinates {(0,0) (1871,0)};
\addplot[lvlgreen, line width=0.75pt] coordinates {(0,60) (1871,60)};
\addplot[fveline] table[x=x,y=v] {\fvedline};
\node[anchor=west, inner sep=0pt, text=white, font=\fontsize{8.2}{9}\selectfont] at (axis description cs:0.0016,0.928) {anaFVED(YM 03-14 (Daily),22,20)};
\node[anchor=east, inner sep=0pt, text=white, font=\fontsize{17.5}{20}\selectfont] at (axis description cs:0.992,0.877) {Daily FVE};
\node[tag, fill=histblue, text=black!70!blue] at (axis cs:1871,12.2) {11,67};
\node[tag, fill=fveorange, text=black!80!red] at (axis cs:1871,5.7) {6,21};
\end{axis}

% FVE1
\begin{axis}[panel, at={(0pt,-492pt)}, height=180.75pt,
  ymin=-39.7, ymax=79.1, ytick={-20,0,20,40,60}]
\addplot[hist] table[x=x,y=v] {\fveonehist} \closedcycle;
\addplot[histline] table[x=x,y=v] {\fveonehist};
\addplot[histline] coordinates {(0,0) (1871,0)};
\addplot[lvlgreen, line width=0.75pt] coordinates {(0,60) (1871,60)};
\addplot[fveline] table[x=x,y=v] {\fveoneline};
\node[anchor=west, inner sep=0pt, text=white, font=\fontsize{8.2}{9}\selectfont] at (axis description cs:0.0016,0.920) {anaFVE1(YM 03-14 (Daily),22,20)};
\node[anchor=east, inner sep=0pt, text=white, font=\fontsize{17.5}{20}\selectfont] at (axis description cs:0.992,0.751) {Volatility adjusted FVE};
\node[anchor=east, inner sep=0pt, text=white, font=\fontsize{17.5}{20}\selectfont] at (axis description cs:0.992,0.647) {(original formula)};
\node[tag, fill=histblue, text=black!70!blue] at (axis cs:1871,6.16) {6,16};
\end{axis}

% FVE2
\begin{axis}[panel, at={(0pt,-672.75pt)}, height=192pt,
  ymin=-35.0, ymax=78.7, ytick={-30,-20,-10,0,20,30,40,50,60,70},
  extra y ticks={10}, extra y tick labels={},
  xtick={12,109,219,320,420,519,615,714,818,928,1030,1139,1248,1348,1460,1558,1663},
  xticklabels={Sep,Okt,Nov,Dez,13,Feb,Mrz,Apr,Mai,Jun,Jul,Aug,Sep,Okt,Nov,Dez,14},
  xtick pos=bottom, major tick length=5.25pt]
\addplot[hist] table[x=x,y=v] {\fvetwohist} \closedcycle;
\addplot[histline] table[x=x,y=v] {\fvetwohist};
\addplot[histline] coordinates {(0,0) (1871,0)};
\addplot[lvlgreen, line width=0.75pt] coordinates {(0,60) (1871,60)};
\addplot[fveline] table[x=x,y=v] {\fvetwoline};
\node[anchor=west, inner sep=0pt, text=white, font=\fontsize{8.2}{9}\selectfont] at (axis description cs:0.0016,0.925) {anaFVE2(YM 03-14 (Daily),22,20)};
\node[anchor=east, inner sep=0pt, text=white, font=\fontsize{17.5}{20}\selectfont] at (axis description cs:0.992,0.75) {Volatility adjusted FVE};
\node[anchor=east, inner sep=0pt, text=white, font=\fontsize{17.5}{20}\selectfont] at (axis description cs:0.992,0.637) {(simplified formula)};
\node[anchor=west, inner sep=0pt, text=white, font=\fontsize{7.9}{9}\selectfont] at (axis description cs:0.0016,0.023) {\textcopyright{} 2014 NinjaTrader, LLC};
\node[tag, fill=histblue, text=black!70!blue] at (axis cs:1871,6.15) {6,15};
\end{axis}
\end{tikzpicture}
\end{document}
